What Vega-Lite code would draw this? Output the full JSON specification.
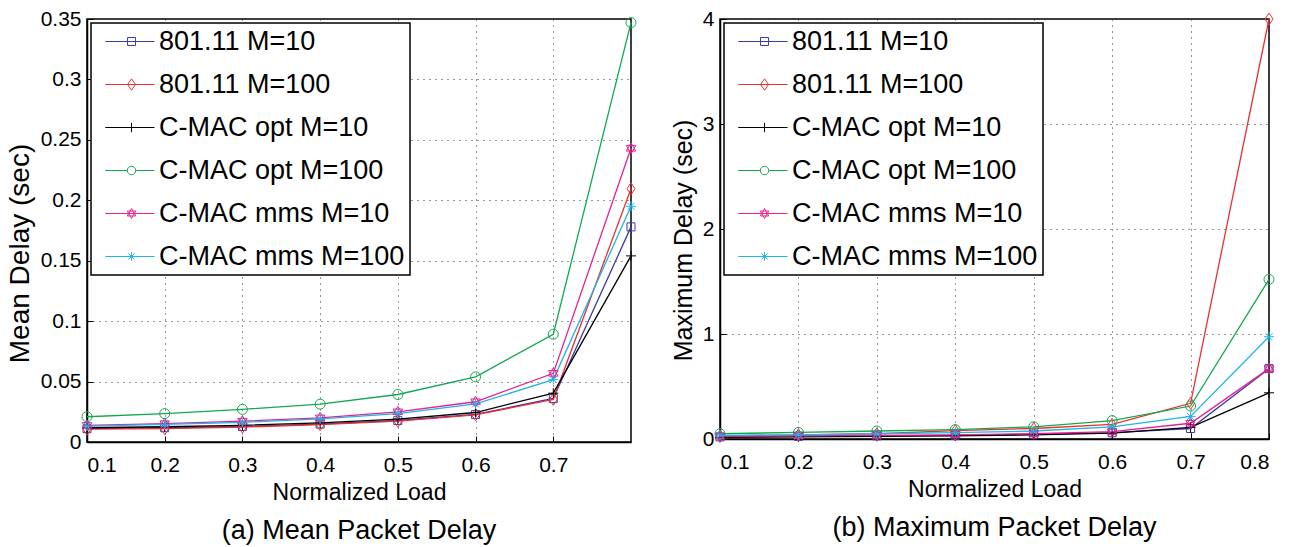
{
  "$schema": "https://vega.github.io/schema/vega-lite/v6.json",
  "background": "white",
  "padding": {"left": 5, "top": 7, "right": 5, "bottom": 5},
  "config": {
    "font": "Liberation Sans",
    "view": {"stroke": "black", "strokeWidth": 1.5},
    "axis": {
      "labelFont": "Liberation Sans", "labelFontSize": 21, "labelColor": "black",
      "titleFont": "Liberation Sans", "titleFontSize": 23, "titleFontWeight": "normal", "titleColor": "black",
      "domainColor": "black", "domainWidth": 1.5, "tickColor": "black", "tickSize": -6, "tickWidth": 1,
      "gridColor": "#333333", "gridDash": [1, 5], "gridWidth": 1, "gridOpacity": 1
    },
    "axisX": {"labelPadding": 18, "titlePadding": 6},
    "axisY": {"labelPadding": 12, "titlePadding": 6},
    "legend": {
      "orient": "top-left", "offset": 4, "padding": 5,
      "strokeColor": "black", "strokeWidth": 1.5, "fillColor": "white",
      "labelFont": "Liberation Sans", "labelFontSize": 27, "labelColor": "black", "labelLimit": 400,
      "symbolSize": 88, "symbolStrokeWidth": 1.3, "labelOffset": 36, "rowPadding": 15
    },
    "point": {"filled": false, "size": 100, "strokeWidth": 1, "opacity": 1},
    "title": {"font": "Liberation Sans", "fontSize": 27, "fontWeight": "normal", "color": "black", "orient": "bottom", "offset": 14}
  },
  "spacing": 31,
  "resolve": {"scale": {"color": "independent", "shape": "independent"}, "legend": {"color": "independent", "shape": "independent"}},
  "hconcat": [
    {
      "width": 544, "height": 423,
      "title": {"text": "(a) Mean Packet Delay"},
      "data": {"values": [
        {"series": "801.11 M=10", "load": 0.1, "delay": 0.011},
        {"series": "801.11 M=10", "load": 0.2, "delay": 0.0118},
        {"series": "801.11 M=10", "load": 0.3, "delay": 0.0128},
        {"series": "801.11 M=10", "load": 0.4, "delay": 0.0148},
        {"series": "801.11 M=10", "load": 0.5, "delay": 0.0178},
        {"series": "801.11 M=10", "load": 0.6, "delay": 0.0228},
        {"series": "801.11 M=10", "load": 0.7, "delay": 0.036},
        {"series": "801.11 M=10", "load": 0.8, "delay": 0.178},
        {"series": "801.11 M=100", "load": 0.1, "delay": 0.0106},
        {"series": "801.11 M=100", "load": 0.2, "delay": 0.011},
        {"series": "801.11 M=100", "load": 0.3, "delay": 0.0123},
        {"series": "801.11 M=100", "load": 0.4, "delay": 0.0143},
        {"series": "801.11 M=100", "load": 0.5, "delay": 0.0172},
        {"series": "801.11 M=100", "load": 0.6, "delay": 0.0224},
        {"series": "801.11 M=100", "load": 0.7, "delay": 0.0353},
        {"series": "801.11 M=100", "load": 0.8, "delay": 0.2096},
        {"series": "C-MAC opt M=10", "load": 0.1, "delay": 0.0118},
        {"series": "C-MAC opt M=10", "load": 0.2, "delay": 0.0126},
        {"series": "C-MAC opt M=10", "load": 0.3, "delay": 0.0138},
        {"series": "C-MAC opt M=10", "load": 0.4, "delay": 0.0158},
        {"series": "C-MAC opt M=10", "load": 0.5, "delay": 0.019},
        {"series": "C-MAC opt M=10", "load": 0.6, "delay": 0.0244},
        {"series": "C-MAC opt M=10", "load": 0.7, "delay": 0.0404},
        {"series": "C-MAC opt M=10", "load": 0.8, "delay": 0.154},
        {"series": "C-MAC opt M=100", "load": 0.1, "delay": 0.0209},
        {"series": "C-MAC opt M=100", "load": 0.2, "delay": 0.0235},
        {"series": "C-MAC opt M=100", "load": 0.3, "delay": 0.027},
        {"series": "C-MAC opt M=100", "load": 0.4, "delay": 0.0313},
        {"series": "C-MAC opt M=100", "load": 0.5, "delay": 0.0393},
        {"series": "C-MAC opt M=100", "load": 0.6, "delay": 0.0539},
        {"series": "C-MAC opt M=100", "load": 0.7, "delay": 0.0892},
        {"series": "C-MAC opt M=100", "load": 0.8, "delay": 0.347},
        {"series": "C-MAC mms M=10", "load": 0.1, "delay": 0.0138},
        {"series": "C-MAC mms M=10", "load": 0.2, "delay": 0.0152},
        {"series": "C-MAC mms M=10", "load": 0.3, "delay": 0.0172},
        {"series": "C-MAC mms M=10", "load": 0.4, "delay": 0.02},
        {"series": "C-MAC mms M=10", "load": 0.5, "delay": 0.025},
        {"series": "C-MAC mms M=10", "load": 0.6, "delay": 0.0333},
        {"series": "C-MAC mms M=10", "load": 0.7, "delay": 0.0568},
        {"series": "C-MAC mms M=10", "load": 0.8, "delay": 0.243},
        {"series": "C-MAC mms M=100", "load": 0.1, "delay": 0.0132},
        {"series": "C-MAC mms M=100", "load": 0.2, "delay": 0.0146},
        {"series": "C-MAC mms M=100", "load": 0.3, "delay": 0.0163},
        {"series": "C-MAC mms M=100", "load": 0.4, "delay": 0.0192},
        {"series": "C-MAC mms M=100", "load": 0.5, "delay": 0.0235},
        {"series": "C-MAC mms M=100", "load": 0.6, "delay": 0.0315},
        {"series": "C-MAC mms M=100", "load": 0.7, "delay": 0.0516},
        {"series": "C-MAC mms M=100", "load": 0.8, "delay": 0.195}
      ]},
      "encoding": {
        "x": {"field": "load", "type": "quantitative", "scale": {"domain": [0.1, 0.8], "nice": false, "zero": false},
              "axis": {"values": [0.1, 0.2, 0.3, 0.4, 0.5, 0.6, 0.7], "format": ".1f", "title": "Normalized Load"}},
        "y": {"field": "delay", "type": "quantitative", "scale": {"domain": [0, 0.35], "nice": false},
              "axis": {"values": [0, 0.05, 0.1, 0.15, 0.2, 0.25, 0.3, 0.35], "format": "~g", "title": "Mean Delay (sec)", "titleFontSize": 28, "titleY": 234}},
        "color": {"field": "series", "type": "nominal",
                  "scale": {"domain": ["801.11 M=10", "801.11 M=100", "C-MAC opt M=10", "C-MAC opt M=100", "C-MAC mms M=10", "C-MAC mms M=100"],
                            "range": ["#3a3aa6", "#ec2f2f", "#000000", "#12a84e", "#e8208e", "#1fb4ea"]},
                  "legend": {"title": null}}
      },
      "layer": [
        {"mark": {"type": "line", "strokeWidth": 1.3}},
        {"transform": [{"filter": "datum.series === '801.11 M=10'"}], "mark": {"type": "point", "shape": "M-0.8,-0.8H0.8V0.8H-0.8Z"}},
        {"transform": [{"filter": "datum.series === '801.11 M=100'"}], "mark": {"type": "point", "shape": "M0,-1.2L0.8,0L0,1.2L-0.8,0Z"}},
        {"transform": [{"filter": "datum.series === 'C-MAC opt M=10'"}], "mark": {"type": "point", "shape": "M-1,0H1M0,-1V1"}},
        {"transform": [{"filter": "datum.series === 'C-MAC opt M=100'"}], "mark": {"type": "point", "shape": "circle"}},
        {"transform": [{"filter": "datum.series === 'C-MAC mms M=10'"}], "mark": {"type": "point", "shape": "M0,-1.1L0.95,0.55L-0.95,0.55ZM0,1.1L0.95,-0.55L-0.95,-0.55Z"}},
        {"transform": [{"filter": "datum.series === 'C-MAC mms M=100'"}], "mark": {"type": "point", "shape": "M-1,0H1M0,-1V1M-0.7,-0.7L0.7,0.7M-0.7,0.7L0.7,-0.7"}},
        {"transform": [{"filter": "datum.load > 1"}],
         "mark": {"type": "point", "strokeWidth": 1.3},
         "encoding": {"shape": {"field": "series", "type": "nominal",
           "scale": {"domain": ["801.11 M=10", "801.11 M=100", "C-MAC opt M=10", "C-MAC opt M=100", "C-MAC mms M=10", "C-MAC mms M=100"],
                     "range": ["M-0.9,0H9.6M3.85,-0.85H5.55V0.85H3.85Z", "M-0.9,0H9.6M4.7,-1.2L5.55,0L4.7,1.2L3.85,0Z", "M-0.9,0H9.6M4.7,-1V1", "M-0.9,0H3.8M5.6,0H9.6M5.6,0A0.9,0.9,0,1,1,3.8,0A0.9,0.9,0,1,1,5.6,0Z", "M-0.9,0H9.6M4.7,-1.05L5.6,0.52L3.8,0.52ZM4.7,1.05L5.6,-0.52L3.8,-0.52Z", "M-0.9,0H9.6M4.7,-0.9V0.9M4.06,-0.64L5.34,0.64M4.06,0.64L5.34,-0.64"]},
           "legend": {"title": null}}}}
      ]
    },
    {
      "width": 549, "height": 420,
      "title": {"text": "(b) Maximum Packet Delay"},
      "data": {"values": [
        {"series": "801.11 M=10", "load": 0.1, "delay": 0.02},
        {"series": "801.11 M=10", "load": 0.2, "delay": 0.025},
        {"series": "801.11 M=10", "load": 0.3, "delay": 0.03},
        {"series": "801.11 M=10", "load": 0.4, "delay": 0.035},
        {"series": "801.11 M=10", "load": 0.5, "delay": 0.045},
        {"series": "801.11 M=10", "load": 0.6, "delay": 0.06},
        {"series": "801.11 M=10", "load": 0.7, "delay": 0.1},
        {"series": "801.11 M=10", "load": 0.8, "delay": 0.67},
        {"series": "801.11 M=100", "load": 0.1, "delay": 0.03},
        {"series": "801.11 M=100", "load": 0.2, "delay": 0.04},
        {"series": "801.11 M=100", "load": 0.3, "delay": 0.05},
        {"series": "801.11 M=100", "load": 0.4, "delay": 0.08},
        {"series": "801.11 M=100", "load": 0.5, "delay": 0.1},
        {"series": "801.11 M=100", "load": 0.6, "delay": 0.14},
        {"series": "801.11 M=100", "load": 0.7, "delay": 0.34},
        {"series": "801.11 M=100", "load": 0.8, "delay": 4.0},
        {"series": "C-MAC opt M=10", "load": 0.1, "delay": 0.015},
        {"series": "C-MAC opt M=10", "load": 0.2, "delay": 0.02},
        {"series": "C-MAC opt M=10", "load": 0.3, "delay": 0.025},
        {"series": "C-MAC opt M=10", "load": 0.4, "delay": 0.03},
        {"series": "C-MAC opt M=10", "load": 0.5, "delay": 0.04},
        {"series": "C-MAC opt M=10", "load": 0.6, "delay": 0.055},
        {"series": "C-MAC opt M=10", "load": 0.7, "delay": 0.11},
        {"series": "C-MAC opt M=10", "load": 0.8, "delay": 0.44},
        {"series": "C-MAC opt M=100", "load": 0.1, "delay": 0.05},
        {"series": "C-MAC opt M=100", "load": 0.2, "delay": 0.063},
        {"series": "C-MAC opt M=100", "load": 0.3, "delay": 0.076},
        {"series": "C-MAC opt M=100", "load": 0.4, "delay": 0.089},
        {"series": "C-MAC opt M=100", "load": 0.5, "delay": 0.116},
        {"series": "C-MAC opt M=100", "load": 0.6, "delay": 0.175},
        {"series": "C-MAC opt M=100", "load": 0.7, "delay": 0.314},
        {"series": "C-MAC opt M=100", "load": 0.8, "delay": 1.52},
        {"series": "C-MAC mms M=10", "load": 0.1, "delay": 0.025},
        {"series": "C-MAC mms M=10", "load": 0.2, "delay": 0.03},
        {"series": "C-MAC mms M=10", "load": 0.3, "delay": 0.035},
        {"series": "C-MAC mms M=10", "load": 0.4, "delay": 0.04},
        {"series": "C-MAC mms M=10", "load": 0.5, "delay": 0.05},
        {"series": "C-MAC mms M=10", "load": 0.6, "delay": 0.07},
        {"series": "C-MAC mms M=10", "load": 0.7, "delay": 0.15},
        {"series": "C-MAC mms M=10", "load": 0.8, "delay": 0.67},
        {"series": "C-MAC mms M=100", "load": 0.1, "delay": 0.035},
        {"series": "C-MAC mms M=100", "load": 0.2, "delay": 0.04},
        {"series": "C-MAC mms M=100", "load": 0.3, "delay": 0.05},
        {"series": "C-MAC mms M=100", "load": 0.4, "delay": 0.06},
        {"series": "C-MAC mms M=100", "load": 0.5, "delay": 0.076},
        {"series": "C-MAC mms M=100", "load": 0.6, "delay": 0.116},
        {"series": "C-MAC mms M=100", "load": 0.7, "delay": 0.215},
        {"series": "C-MAC mms M=100", "load": 0.8, "delay": 0.974}
      ]},
      "encoding": {
        "x": {"field": "load", "type": "quantitative", "scale": {"domain": [0.1, 0.8], "nice": false, "zero": false},
              "axis": {"values": [0.1, 0.2, 0.3, 0.4, 0.5, 0.6, 0.7, 0.8], "format": ".1f", "title": "Normalized Load"}},
        "y": {"field": "delay", "type": "quantitative", "scale": {"domain": [0, 4], "nice": false},
              "axis": {"values": [0, 1, 2, 3, 4], "format": "~g", "title": "Maximum Delay (sec)", "titleFontSize": 25, "titleY": 221}},
        "color": {"field": "series", "type": "nominal",
                  "scale": {"domain": ["801.11 M=10", "801.11 M=100", "C-MAC opt M=10", "C-MAC opt M=100", "C-MAC mms M=10", "C-MAC mms M=100"],
                            "range": ["#3a3aa6", "#ec2f2f", "#000000", "#12a84e", "#e8208e", "#1fb4ea"]},
                  "legend": {"title": null}}
      },
      "layer": [
        {"mark": {"type": "line", "strokeWidth": 1.3}},
        {"transform": [{"filter": "datum.series === '801.11 M=10'"}], "mark": {"type": "point", "shape": "M-0.8,-0.8H0.8V0.8H-0.8Z"}},
        {"transform": [{"filter": "datum.series === '801.11 M=100'"}], "mark": {"type": "point", "shape": "M0,-1.2L0.8,0L0,1.2L-0.8,0Z"}},
        {"transform": [{"filter": "datum.series === 'C-MAC opt M=10'"}], "mark": {"type": "point", "shape": "M-1,0H1M0,-1V1"}},
        {"transform": [{"filter": "datum.series === 'C-MAC opt M=100'"}], "mark": {"type": "point", "shape": "circle"}},
        {"transform": [{"filter": "datum.series === 'C-MAC mms M=10'"}], "mark": {"type": "point", "shape": "M0,-1.1L0.95,0.55L-0.95,0.55ZM0,1.1L0.95,-0.55L-0.95,-0.55Z"}},
        {"transform": [{"filter": "datum.series === 'C-MAC mms M=100'"}], "mark": {"type": "point", "shape": "M-1,0H1M0,-1V1M-0.7,-0.7L0.7,0.7M-0.7,0.7L0.7,-0.7"}},
        {"transform": [{"filter": "datum.load > 1"}],
         "mark": {"type": "point", "strokeWidth": 1.3},
         "encoding": {"shape": {"field": "series", "type": "nominal",
           "scale": {"domain": ["801.11 M=10", "801.11 M=100", "C-MAC opt M=10", "C-MAC opt M=100", "C-MAC mms M=10", "C-MAC mms M=100"],
                     "range": ["M-0.9,0H9.6M3.85,-0.85H5.55V0.85H3.85Z", "M-0.9,0H9.6M4.7,-1.2L5.55,0L4.7,1.2L3.85,0Z", "M-0.9,0H9.6M4.7,-1V1", "M-0.9,0H3.8M5.6,0H9.6M5.6,0A0.9,0.9,0,1,1,3.8,0A0.9,0.9,0,1,1,5.6,0Z", "M-0.9,0H9.6M4.7,-1.05L5.6,0.52L3.8,0.52ZM4.7,1.05L5.6,-0.52L3.8,-0.52Z", "M-0.9,0H9.6M4.7,-0.9V0.9M4.06,-0.64L5.34,0.64M4.06,0.64L5.34,-0.64"]},
           "legend": {"title": null}}}}
      ]
    }
  ]
}
